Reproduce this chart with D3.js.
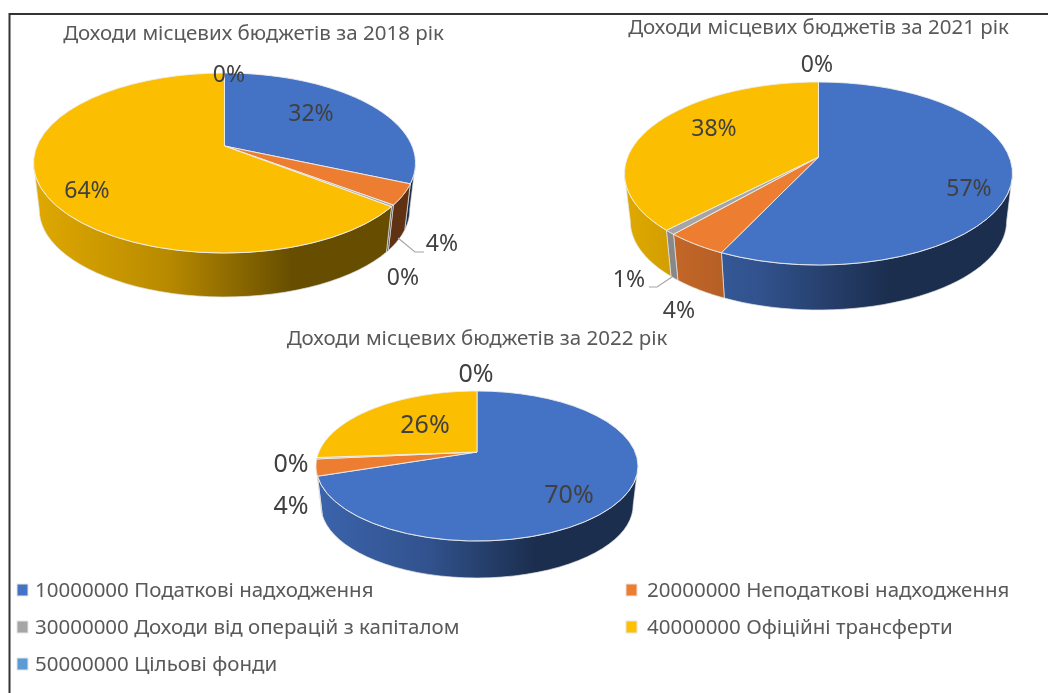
<!DOCTYPE html>
<html><head><meta charset="utf-8">
<script src="https://cdn.jsdelivr.net/npm/d3@7"></script>
<style>html,body{margin:0;padding:0;background:#fff}svg{display:block;filter:blur(.35px)}text{font-family:"Noto Sans",sans-serif}</style>
</head><body><svg id="c" width="1048" height="693"></svg>
<script>
const categories=["10000000 Податкові надходження","20000000 Неподаткові надходження","30000000 Доходи від операцій з капіталом","40000000 Офіційні трансферти","50000000 Цільові фонди"];
const colors=["#4472c4","#ed7d31","#a5a5a5","#ffc000","#5b9bd5"];
const sliceColors=["#4472c4","#ed7d31","#a5a5a5","#fbbe00","#5b9bd5"];
const titles=["Доходи місцевих бюджетів за 2018 рік","Доходи місцевих бюджетів за 2021 рік","Доходи місцевих бюджетів за 2022 рік"];
const values2018=[31.6,3.7,0.3,64.4,0];
const values2021=[57.0,4.4,0.8,37.8,0];
const values2022=[69.9,3.6,0.3,26.2,0];
const labels2018=["32%","4%","0%","64%","0%"];
const labels2021=["57%","4%","1%","38%","0%"];
const labels2022=["70%","4%","0%","26%","0%"];

// layout
const pies=[
 {values:values2018,labels:labels2018,title:titles[0],tx:253.5,ty:33,cx:224.5,ay:146,hw:191,top:73,bot:253,wall:297,fs:23,
  lp:[[311,113],[442,243],[403,277],[87,190],[229,74]],leader:[[398,238],[415,252],[424,252]]},
 {values:values2021,labels:labels2021,title:titles[1],tx:818.5,ty:27,cx:818.5,ay:157,hw:194,top:82,bot:265,wall:310,fs:23,
  lp:[[969,188],[679,310],[629,279],[714,128],[817,64]],leader:[[672,277],[657,287],[649,287]]},
 {values:values2022,labels:labels2022,title:titles[2],tx:477,ty:338,cx:477,ay:452,hw:161,top:391,bot:541,wall:578,fs:25,
  lp:[[569,494],[291,505],[291,463],[425,424],[476,373]],leader:null}
];
const svg=d3.select("#c"),defs=svg.append("defs");
svg.append("path").attr("d","M1048,14H9.5V693").attr("fill","none").attr("stroke","#333").attr("stroke-width",2);

const shade=(c,k)=>{const r=d3.rgb(c);return d3.rgb(r.r*k,r.g*k,r.b*k).formatHex()};
const line=d3.line();
const pieGen=d3.pie().sort(null).startAngle(0).endAngle(2*Math.PI);
const S=0.97;

pies.forEach((P,pi)=>{
  const up=P.ay-P.top,lo=P.bot-P.ay;
  const p=(lo-up)/(lo+up),Sy=up*(1+p),Rx=P.hw*Math.sqrt(1-p*p);
  const dy=P.wall-P.ay-S*lo;
  const top=t=>{const u=Math.sin(t),v=-Math.cos(t),w=1-p*v;return [P.cx+Rx*u/w,P.ay+Sy*v/w]};
  const base=t=>{const u=Math.sin(t),v=-Math.cos(t),w=1-p*v;return [P.cx+S*Rx*u/w,P.ay+dy+S*Sy*v/w]};
  const samples=(a,b)=>d3.range(0,41).map(i=>a+(b-a)*i/40);
  const ts=Math.acos(-p),te=2*Math.PI-ts;
  const arcs=pieGen(P.values);
  const g=svg.append("g");
  colors.forEach((c,i)=>{
    const gr=defs.append("linearGradient").attr("id",`w${pi}-${i}`).attr("gradientUnits","userSpaceOnUse")
      .attr("x1",P.cx-P.hw).attr("x2",P.cx+P.hw).attr("y1",0).attr("y2",0);
    [[0,.88],[.35,.72],[.68,.4],[1,.4]].forEach(s=>gr.append("stop").attr("offset",s[0]).attr("stop-color",shade(c,s[1])));
  });
  // walls
  arcs.forEach(a=>{
    const s=Math.max(a.startAngle,ts),e=Math.min(a.endAngle,te);
    if(e<=s) return;
    const ang=samples(s,e);
    const pts=ang.map(top).concat(ang.slice().reverse().map(base));
    g.append("path").attr("d",line(pts)+"Z").attr("fill",`url(#w${pi}-${a.index})`)
      .attr("stroke","#e4e4e4").attr("stroke-width",.7);
  });
  // top faces
  arcs.forEach(a=>{
    if(a.endAngle-a.startAngle<=0) return;
    const pts=[[P.cx,P.ay]].concat(samples(a.startAngle,a.endAngle).map(top));
    g.append("path").attr("d",line(pts)+"Z").attr("fill",sliceColors[a.index])
      .attr("stroke","#eeeeee").attr("stroke-width",.9).attr("stroke-linejoin","round");
  });
  if(P.leader) g.append("path").attr("d",line(P.leader)).attr("fill","none").attr("stroke","#a6a6a6").attr("stroke-width",1.2);
  P.labels.forEach((l,i)=>g.append("text").attr("x",P.lp[i][0]).attr("y",P.lp[i][1]).attr("dy",".36em")
    .attr("text-anchor","middle").attr("font-size",P.fs).attr("fill","#404040").text(l));
  g.append("text").attr("x",P.tx).attr("y",P.ty).attr("dy",".36em").attr("text-anchor","middle")
    .attr("font-size",20.5).attr("fill","#595959").text(P.title);
});

// legend
const legendX=[17,626],legendY=[590,627,664];
const legendPos=[[0,0],[1,0],[0,1],[1,1],[0,2]];
categories.forEach((c,i)=>{
  const x=legendX[legendPos[i][0]],y=legendY[legendPos[i][1]];
  svg.append("rect").attr("x",x).attr("y",y-6).attr("width",11).attr("height",12).attr("fill",colors[i]).attr("stroke","#e6e6e6").attr("stroke-width",1);
  svg.append("text").attr("x",x+(legendPos[i][0]?21:18)).attr("y",y).attr("dy",".36em").attr("font-size",20.5).attr("fill","#595959").text(c);
});
</script></body></html>
